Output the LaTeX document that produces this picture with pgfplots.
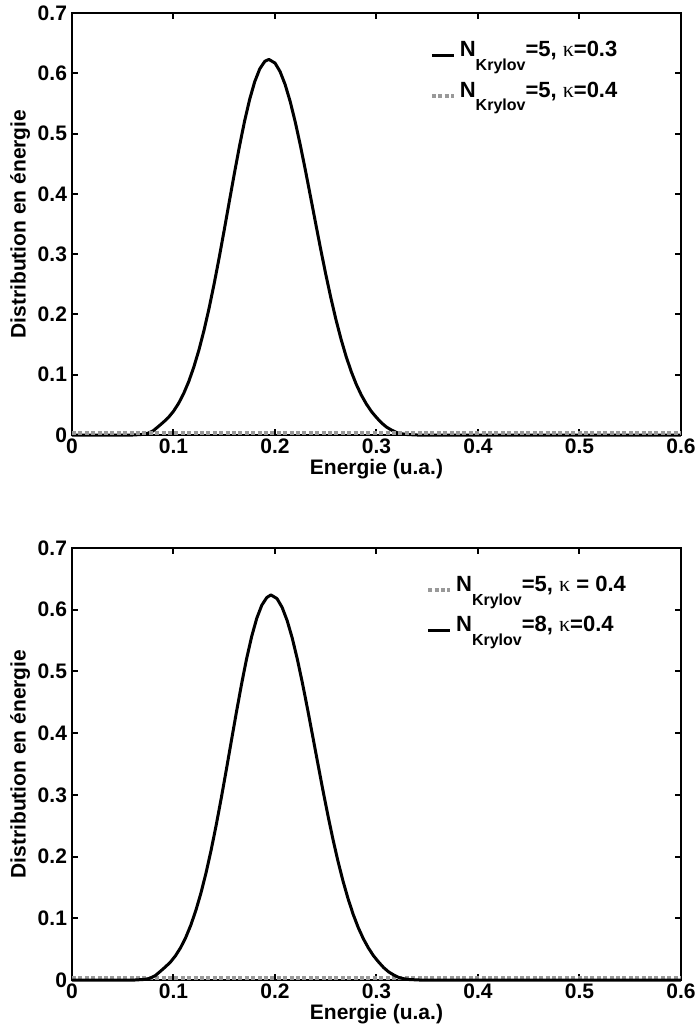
\documentclass[border=0pt]{standalone}
\usepackage{pgfplots}
\pgfplotsset{compat=1.18}
\usepackage{pgfplotstable}
\usepackage{fontspec}
\setmainfont{Liberation Sans}
\newfontfamily\symf{Liberation Serif}
\definecolor{dotgray}{rgb}{0.6,0.6,0.6}

\pgfplotstableread{
x y
0.000 0.0000
0.060 0.0000
0.070 0.0010
0.075 0.0030
0.080 0.0070
0.085 0.0140
0.090 0.0212
0.095 0.0291
0.100 0.0394
0.105 0.0524
0.110 0.0687
0.115 0.0886
0.120 0.1126
0.125 0.1407
0.130 0.1732
0.135 0.2099
0.140 0.2504
0.145 0.2942
0.150 0.3402
0.155 0.3874
0.160 0.4341
0.165 0.4790
0.170 0.5204
0.175 0.5565
0.180 0.5860
0.185 0.6074
0.190 0.6199
0.194 0.6230
0.200 0.6170
0.205 0.6029
0.210 0.5813
0.215 0.5530
0.220 0.5189
0.225 0.4804
0.230 0.4388
0.235 0.3954
0.240 0.3516
0.245 0.3083
0.250 0.2668
0.255 0.2278
0.260 0.1918
0.265 0.1594
0.270 0.1307
0.275 0.1057
0.280 0.0843
0.285 0.0664
0.290 0.0515
0.295 0.0390
0.300 0.0290
0.305 0.0200
0.310 0.0130
0.315 0.0080
0.320 0.0040
0.325 0.0020
0.330 0.0008
0.340 0.0000
0.600 0.0000
}\peakA

\pgfplotstableread{
x y
0.000 0.0000
0.062 0.0000
0.072 0.0010
0.077 0.0030
0.082 0.0070
0.087 0.0140
0.092 0.0212
0.097 0.0291
0.102 0.0394
0.107 0.0524
0.112 0.0687
0.117 0.0886
0.122 0.1126
0.127 0.1407
0.132 0.1732
0.137 0.2099
0.142 0.2504
0.147 0.2942
0.152 0.3402
0.157 0.3874
0.162 0.4341
0.167 0.4790
0.172 0.5204
0.177 0.5565
0.182 0.5860
0.187 0.6074
0.192 0.6199
0.196 0.6240
0.202 0.6180
0.207 0.6039
0.212 0.5823
0.217 0.5540
0.222 0.5199
0.227 0.4814
0.232 0.4398
0.237 0.3964
0.242 0.3526
0.247 0.3093
0.252 0.2678
0.257 0.2288
0.262 0.1928
0.267 0.1604
0.272 0.1317
0.277 0.1065
0.282 0.0850
0.287 0.0670
0.292 0.0520
0.297 0.0394
0.302 0.0293
0.307 0.0202
0.312 0.0131
0.317 0.0081
0.322 0.0041
0.327 0.0020
0.332 0.0008
0.342 0.0000
0.600 0.0000
}\peakB

\pgfplotstableread{
x y
0.000 0.004
0.600 0.004
}\flatline

\pgfplotsset{
  myaxis/.style={
    scale only axis,
    width=304.5pt,
    xmin=0, xmax=0.6, ymin=0, ymax=0.7,
    xtick={0,0.1,...,0.6},
    ytick={0,0.1,...,0.7},
    tick align=inside,
    major tick length=3pt,
    axis line style={line width=1.3pt},
    tick style={line width=1pt, black},
    every axis plot/.append style={line join=round},
    /pgf/number format/assume math mode=true,
    /pgf/number format/fixed,
    /pgf/number format/precision=1,
    ticklabel style={font=\fontsize{10.5}{12}\selectfont\bfseries},
    xticklabel style={yshift=1.5pt},
    yticklabel style={xshift=1pt},
    label style={font=\fontsize{10.5}{12}\selectfont\bfseries},
    xlabel={Energie (u.a.)},
    ylabel={Distribution en énergie},
    xlabel style={yshift=4pt},
    ylabel style={yshift=-3pt},
    legend style={draw=none, fill=none, font=\fontsize{11}{13}\selectfont\bfseries,
      anchor=north east, row sep=7pt,
      inner sep=1pt, cells={anchor=west}},
    legend cell align=left,
    legend image code/.code={\draw[##1] (-2pt,-2.5pt) -- (9pt,-2.5pt);},
    clip=false,
  },
  blackc/.style={black, line width=1.5pt},
  grayc/.style={dotgray, line width=2pt, dash pattern=on 2pt off 1.2pt},
}

\newcommand{\NK}{N\raisebox{-0.62em}{\fontsize{8}{9}\selectfont Krylov}}

\begin{document}
\begin{tikzpicture}
\path[use as bounding box] (0,0) rectangle (349pt,-512pt);
\begin{axis}[myaxis, at={(36pt,-6.5pt)}, anchor=north west, height=211pt,
  legend style={at={(0.906,0.948)}}]
\addplot[blackc] table {\peakA};
\addlegendentry{\NK=5, {\symf\mdseries κ}=0.3}
\addplot[grayc] table {\flatline};
\addlegendentry{\NK=5, {\symf\mdseries κ}=0.4}
\end{axis}
\begin{axis}[myaxis, at={(36pt,-274pt)}, anchor=north west, height=216pt,
  legend style={at={(0.92,0.95)}}]
\addplot[grayc] table {\flatline};
\addlegendentry{\NK=5, {\symf\mdseries κ} = 0.4}
\addplot[blackc] table {\peakB};
\addlegendentry{\NK=8, {\symf\mdseries κ}=0.4}
\end{axis}
\end{tikzpicture}
\end{document}
